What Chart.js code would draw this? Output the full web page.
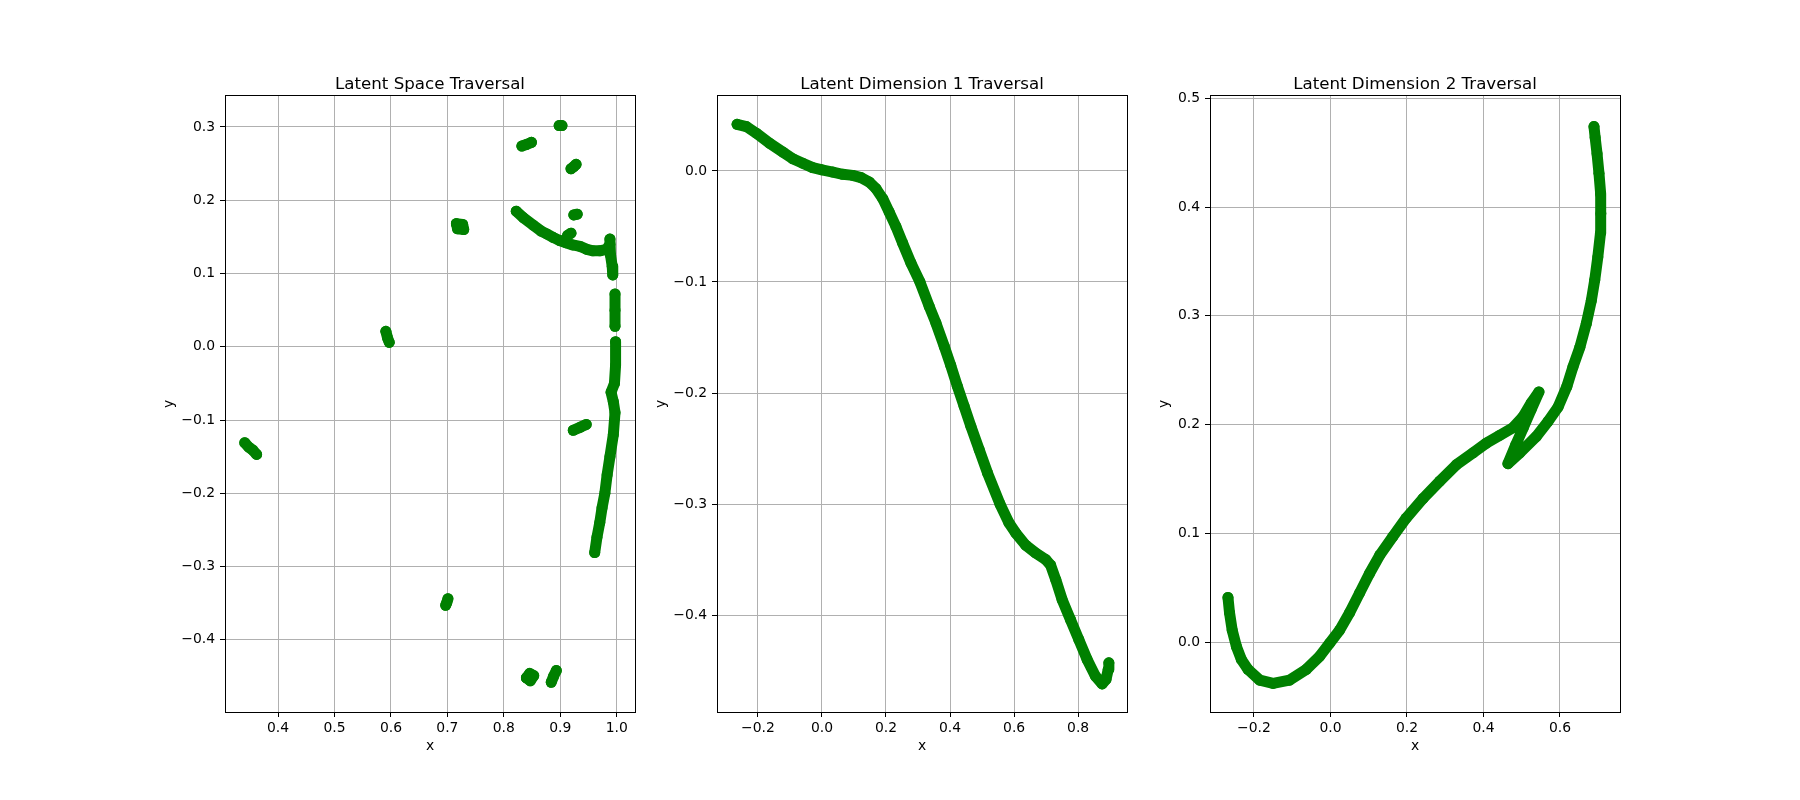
<!DOCTYPE html>
<html>
<head>
<meta charset="utf-8">
<title>Latent Traversal</title>
<script src="https://cdn.jsdelivr.net/npm/chart.js@4.4.1/dist/chart.umd.min.js"></script>
<style>
    html, body { margin: 0; padding: 0; background: #fff; }
    body { width: 1800px; height: 800px; position: relative; overflow: hidden; }
    .panel { position: absolute; top: 0; width: 610px; height: 800px; }
</style>
</head>
<body>
<div class="panel" style="left:125px"><canvas id="space"></canvas></div>
<div class="panel" style="left:617px"><canvas id="dim1"></canvas></div>
<div class="panel" style="left:1110px"><canvas id="dim2"></canvas></div>
<script>
'use strict';

// ----------------------------
// Data (null = break between clusters)
// ----------------------------
var spaceX = [
    0.341, 0.348, 0.355, 0.362, null,
    0.591, 0.594, 0.597, null,
    0.716, 0.727, 0.729, 0.718, 0.716, null,
    0.701, 0.699, 0.697, null,
    0.840, 0.846, 0.853, 0.847, 0.840, null,
    0.884, 0.888, 0.893, null,
    0.923, 0.935, 0.946, null,
    0.832, 0.840, 0.849, null,
    0.898, 0.903, null,
    0.919, 0.924, 0.928, null,
    0.924, 0.930, null,
    0.913, 0.919, null,
    0.822, 0.835, 0.852, 0.866, 0.876, 0.888, 0.899, 0.910, 0.922, 0.935, 0.947, 0.958, 0.970, 0.982, 0.988, 0.988, 0.989, 0.992, 0.993, null,
    0.997, 0.997, 0.997, null,
    0.998, 0.998, 0.996, 0.990, 0.994, 0.997, 0.994, 0.988, 0.983, 0.979, 0.974, 0.970, 0.965, 0.961
];
var spaceY = [
    -0.131, -0.137, -0.141, -0.147, null,
    0.021, 0.012, 0.006, null,
    0.168, 0.167, 0.160, 0.161, 0.168, null,
    -0.344, -0.349, -0.353, null,
    -0.452, -0.446, -0.449, -0.456, -0.452, null,
    -0.458, -0.450, -0.442, null,
    -0.114, -0.110, -0.106, null,
    0.274, 0.276, 0.279, null,
    0.302, 0.302, null,
    0.243, 0.246, 0.249, null,
    0.180, 0.181, null,
    0.152, 0.155, null,
    0.185, 0.176, 0.166, 0.158, 0.154, 0.149, 0.145, 0.142, 0.139, 0.137, 0.133, 0.131, 0.131, 0.133, 0.140, 0.147, 0.125, 0.110, 0.098, null,
    0.072, 0.050, 0.028, null,
    0.007, -0.025, -0.050, -0.062, -0.075, -0.090, -0.120, -0.150, -0.175, -0.200, -0.220, -0.240, -0.260, -0.281
];

var dim1X = [
    -0.265, -0.236, -0.205, -0.164, -0.122, -0.091, -0.060, -0.029, 0.000, 0.034, 0.065, 0.096, 0.122,
    0.148, 0.169, 0.190, 0.210, 0.231, 0.252, 0.278, 0.306, 0.335, 0.356, 0.382, 0.402, 0.423, 0.444,
    0.465, 0.491, 0.517, 0.556, 0.584, 0.605, 0.636, 0.667, 0.699, 0.714, 0.730, 0.750, 0.776, 0.802,
    0.828, 0.854, 0.875, 0.887, 0.894, 0.896
];
var dim1Y = [
    0.042, 0.040, 0.034, 0.025, 0.017, 0.011, 0.007, 0.003, 0.001, -0.001, -0.003, -0.004, -0.006,
    -0.010, -0.016, -0.025, -0.037, -0.050, -0.065, -0.083, -0.100, -0.122, -0.137, -0.158, -0.175, -0.194, -0.212,
    -0.230, -0.251, -0.272, -0.300, -0.317, -0.326, -0.337, -0.344, -0.350, -0.355, -0.368, -0.386, -0.404, -0.422,
    -0.440, -0.455, -0.462, -0.458, -0.449, -0.443
];

var dim2X = [
    -0.268, -0.264, -0.257, -0.246, -0.233, -0.216, -0.185, -0.150, -0.107, -0.063, -0.028, -0.002, 0.024,
    0.050, 0.076, 0.102, 0.129, 0.163, 0.198, 0.242, 0.286, 0.329, 0.373, 0.408, 0.442, 0.477, 0.503,
    0.525, 0.545, 0.525, 0.504, 0.484, 0.464, 0.495, 0.538, 0.569, 0.595, 0.618, 0.634, 0.652, 0.669,
    0.682, 0.691, 0.699, 0.706, 0.707, 0.706, 0.702, 0.697, 0.692, 0.689
];
var dim2Y = [
    0.041, 0.027, 0.011, -0.004, -0.016, -0.025, -0.035, -0.038, -0.035, -0.025, -0.013, -0.001, 0.011,
    0.027, 0.045, 0.063, 0.080, 0.097, 0.114, 0.132, 0.148, 0.163, 0.174, 0.183, 0.190, 0.197, 0.207,
    0.220, 0.230, 0.214, 0.197, 0.181, 0.164, 0.174, 0.189, 0.203, 0.216, 0.235, 0.253, 0.271, 0.293,
    0.314, 0.333, 0.354, 0.376, 0.394, 0.412, 0.431, 0.449, 0.464, 0.474
];

// tick labels
var spaceXTicks = [0.4, 0.5, 0.6, 0.7, 0.8, 0.9, 1.0];
var spaceYTicks = [-0.4, -0.3, -0.2, -0.1, 0.0, 0.1, 0.2, 0.3];
var dim1XTicks = [-0.2, 0.0, 0.2, 0.4, 0.6, 0.8];
var dim1YTicks = [-0.4, -0.3, -0.2, -0.1, 0.0];
var dim2XTicks = [-0.2, 0.0, 0.2, 0.4, 0.6];
var dim2YTicks = [0.0, 0.1, 0.2, 0.3, 0.4, 0.5];

var GREEN = '#008000';
var FONT = "'DejaVu Sans', sans-serif";

Chart.defaults.color = '#000';

function fmt(v) {
    var r = Math.round(v * 10) / 10;
    return (r < 0 ? '\u2212' : '') + Math.abs(r).toFixed(1);
}

// matplotlib style box around the plot area
var frame = {
    id: 'frame',
    afterDraw: function (chart) {
        var a = chart.chartArea;
        var ctx = chart.ctx;
        ctx.save();
        ctx.strokeStyle = '#000';
        ctx.lineWidth = 1;
        ctx.strokeRect(Math.round(a.left) + 0.5, Math.round(a.top) - 0.5,
            Math.round(a.right - a.left), Math.round(a.bottom - a.top) + 1);
        ctx.restore();
    }
};

function axis(name, range, ticks, titlePad) {
    var horizontal = name === 'x';
    return {
        type: 'linear',
        position: horizontal ? 'bottom' : 'left',
        min: range[0],
        max: range[1],
        z: 1,
        afterBuildTicks: function (scale) {
            scale.ticks = ticks.map(function (v) { return {value: v}; });
        },
        afterFit: function (scale) {
            if (horizontal) {
                scale.height = 60;
            } else {
                scale.width = 80;
            }
        },
        ticks: {
            color: '#000',
            font: {family: FONT, size: 13.9},
            padding: horizontal ? 3 : 5,
            autoSkip: false,
            maxRotation: 0,
            callback: fmt
        },
        grid: {color: '#b0b0b0', lineWidth: 1, tickLength: 5, tickColor: '#000', tickWidth: 1},
        border: {display: true, color: '#000', width: 1},
        title: {display: true, text: name, color: '#000', font: {family: FONT, size: 13.9}, padding: titlePad}
    };
}

function makeChart(id, title, xs, ys, xRange, yRange, xTicks, yTicks, yTitlePad) {
    var points = xs.map(function (x, i) { return {x: x, y: ys[i]}; });
    return new Chart(document.getElementById(id), {
        type: 'scatter',
        data: {
            datasets: [{
                data: points,
                showLine: true,
                spanGaps: false,
                tension: 0,
                borderColor: GREEN,
                backgroundColor: GREEN,
                borderWidth: 11,
                borderCapStyle: 'round',
                borderJoinStyle: 'round',
                pointRadius: 5.5,
                pointBorderWidth: 0,
                pointHoverRadius: 5.5
            }]
        },
        options: {
            responsive: true,
            maintainAspectRatio: false,
            animation: false,
            events: [],
            layout: {padding: {left: 20, right: 100, top: 0, bottom: 28}},
            plugins: {
                legend: {display: false},
                tooltip: {enabled: false},
                title: {
                    display: true,
                    fullSize: false,
                    text: title,
                    color: '#000',
                    font: {family: FONT, size: 16.67, weight: 'normal', lineHeight: 1.2},
                    padding: {top: 75, bottom: 1}
                }
            },
            scales: {
                x: axis('x', xRange, xTicks, {top: 0, bottom: 17}),
                y: axis('y', yRange, yTicks, {top: yTitlePad, bottom: 0})
            }
        },
        plugins: [frame]
    });
}

makeChart('space', 'Latent Space Traversal', spaceX, spaceY,
    [0.306, 1.0324], [-0.4986, 0.3423], spaceXTicks, spaceYTicks, 15.7);
makeChart('dim1', 'Latent Dimension 1 Traversal', dim1X, dim1Y,
    [-0.3277, 0.9526], [-0.4873, 0.0675], dim1XTicks, dim1YTicks, 15.7);
makeChart('dim2', 'Latent Dimension 2 Traversal', dim2X, dim2Y,
    [-0.315, 0.757], [-0.0643, 0.5021], dim2XTicks, dim2YTicks, 26.4);
</script>
</body>
</html>
